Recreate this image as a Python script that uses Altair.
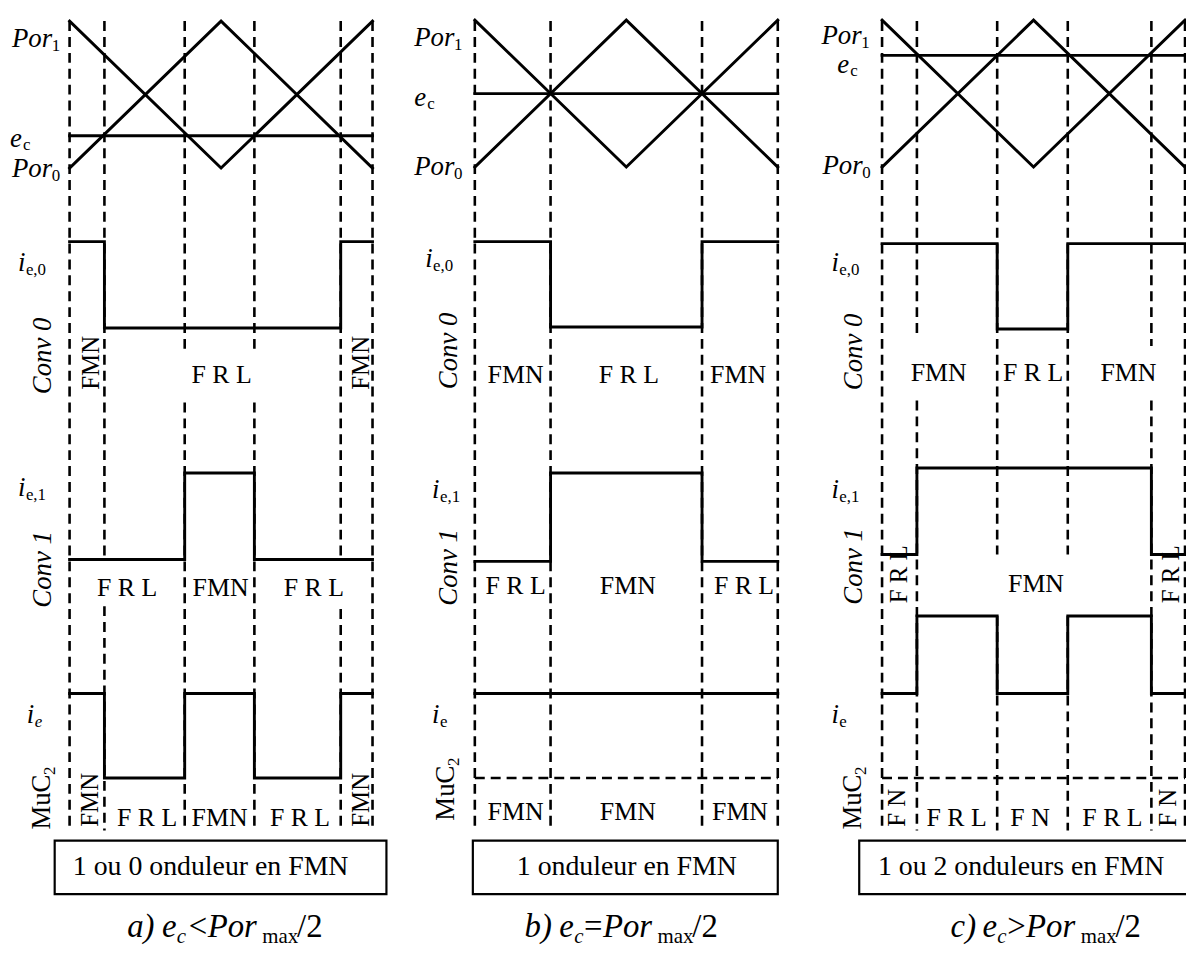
import altair as alt
import pandas as pd

# ------------------------------------------------------------------ data
PANELS = ["a", "b", "c"]
EC = [0.22, 0.50, 0.76]                 # e_c level (fraction of carrier amplitude)
CARRIER_T = [0.0, 0.5, 1.0]             # one carrier period
POR1_V = [1, 0, 1]
POR0_V = [0, 1, 0]

SWITCH_T = {"a": [0.0, 0.115, 0.38, 0.61, 0.895, 1.0],
            "b": [0.0, 0.25, 0.75, 1.0],
            "c": [0.0, 0.115, 0.38, 0.613, 0.889, 1.0]}
IE0_T = {"a": [0, 0.115, 0.895, 1], "b": [0, 0.25, 0.75, 1], "c": [0, 0.38, 0.613, 1]}
IE0_V = {"a": [1, 0, 1], "b": [1, 0, 1], "c": [1, 0, 1]}
IE1_T = {"a": [0, 0.38, 0.61, 1], "b": [0, 0.25, 0.75, 1], "c": [0, 0.115, 0.889, 1]}
IE1_V = {"a": [0, 1, 0], "b": [0, 1, 0], "c": [0, 1, 0]}
IE_T = {"a": [0, 0.115, 0.38, 0.61, 0.895, 1], "b": [0, 1], "c": [0, 0.115, 0.38, 0.613, 0.889, 1]}
IE_V = {"a": [1, 0, 1, 0, 1], "b": [1], "c": [1, 2, 1, 2, 1]}

CONV0_TXT = {"a": ["F R L"], "b": ["FMN", "F R L", "FMN"], "c": ["FMN", "F R L", "FMN"]}
CONV0_ROT = {"a": ["FMN", "FMN"], "b": [], "c": []}
CONV1_TXT = {"a": ["F R L", "FMN", "F R L"], "b": ["F R L", "FMN", "F R L"], "c": ["FMN"]}
CONV1_ROT = {"a": [], "b": [], "c": ["F R L", "F R L"]}
MUC_TXT = {"a": ["F R L", "FMN", "F R L"], "b": ["FMN", "FMN", "FMN"], "c": ["F R L", "F N", "F R L"]}
MUC_ROT = {"a": ["FMN", "FMN"], "b": [], "c": ["F N", "F N"]}
BOX_TXT = {"a": "1 ou 0 onduleur en FMN", "b": "1 onduleur en FMN", "c": "1 ou 2 onduleurs en FMN"}
CAP_LETTER = {"a": "a)", "b": "b)", "c": "c)"}
CAP_REL = {"a": "<", "b": "=", "c": ">"}

# ------------------------------------------------------------------ layout (pixels)
FONT = "'Liberation Serif', 'Times New Roman', Times, serif"
PX = 305.0                      # pixels per carrier period
ORIGIN = {"a": 62, "b": 470, "c": 880}   # svg-x of t = 0 in each panel
SVG_W, SVG_H = 1186, 939
CAR_Y = {"a": (166, 18), "b": (165, 17), "c": (165, 17)}      # (level 0, level 1)
IE0_Y = {"a": (327, 240), "b": (326, 240), "c": (328, 242)}
IE1_Y = {"a": (560, 473), "b": (562, 473), "c": (555, 468)}
IE_Y = {0: 780, 1: 695, 2: 617}
DASH_TOP, DASH_BOT = 18, 833
GAPS = {"a": {0.115: [(557, 607)], 0.38: [(348, 402)], 0.61: [(348, 402)], 0.895: [(557, 610)]},
        "b": {},
        "c": {0.115: [(338, 400)], 0.38: [(555, 617)], 0.613: [(555, 617)], 0.889: [(345, 400)]}}

def X(p, t):
    return ORIGIN[p] / PX + t

def XD(p, dx):
    return (ORIGIN[p] + dx) / PX

solid, dashed, hdash, boxes, labels = [], [], [], [], []

def lab(p, text, dx, y, size=27, style="normal", align="left", angle=0):
    labels.append(dict(x=XD(p, dx), y=y, text=text, size=size, style=style,
                       align=align, angle=angle))

def step(p, name, ts, vs, ymap):
    k = 0
    for i, v in enumerate(vs):
        for t in (ts[i], ts[i + 1]):
            solid.append(dict(id=f"{p}-{name}", o=k, x=X(p, t), y=ymap(v)))
            k += 1

for i, p in enumerate(PANELS):
    y0, y1 = CAR_Y[p]
    cy = lambda v, y0=y0, y1=y1: y0 + (y1 - y0) * v
    for k, t in enumerate(CARRIER_T):
        solid.append(dict(id=f"{p}-por1", o=k, x=X(p, t), y=cy(POR1_V[k])))
        solid.append(dict(id=f"{p}-por0", o=k, x=X(p, t), y=cy(POR0_V[k])))
    solid.append(dict(id=f"{p}-ec", o=0, x=X(p, 0), y=cy(EC[i])))
    solid.append(dict(id=f"{p}-ec", o=1, x=X(p, 1), y=cy(EC[i])))
    a0, a1 = IE0_Y[p]
    step(p, "ie0", IE0_T[p], IE0_V[p], lambda v, a0=a0, a1=a1: a0 + (a1 - a0) * v)
    b0, b1 = IE1_Y[p]
    step(p, "ie1", IE1_T[p], IE1_V[p], lambda v, b0=b0, b1=b1: b0 + (b1 - b0) * v)
    step(p, "ie", IE_T[p], IE_V[p], lambda v: IE_Y[v])
    # dashed verticals (with the gaps left around some labels)
    for t in SWITCH_T[p]:
        cuts = GAPS[p].get(t, [])
        start = DASH_TOP
        for g0, g1 in cuts:
            dashed.append(dict(x=X(p, t), y=start, y2=g0))
            start = g1
        dashed.append(dict(x=X(p, t), y=start, y2=DASH_BOT))
    if p in ("b", "c"):
        hdash.append(dict(x=X(p, 0), x2=X(p, 1), y=IE_Y[0]))

# ---- text
# panel a
lab("a", "Por", -58, 44, style="italic"); lab("a", "1", -18, 48, 17)
lab("a", "e", -60, 145, style="italic"); lab("a", "c", -47, 148, 17)
lab("a", "Por", -58, 175, style="italic"); lab("a", "0", -18, 179, 17)
lab("a", "i", -52, 270, style="italic"); lab("a", "e,0", -44, 274, 17)
lab("a", "i", -52, 496, style="italic"); lab("a", "e,1", -44, 500, 17)
lab("a", "i", -43, 725, style="italic"); lab("a", "e", -35, 729, 17, style="italic")
# panel b
lab("b", "Por", -61, 43, style="italic"); lab("b", "1", -21, 47, 17)
lab("b", "e", -61, 103, style="italic"); lab("b", "c", -48, 106, 17)
lab("b", "Por", -61, 173, style="italic"); lab("b", "0", -21, 177, 17)
lab("b", "i", -50, 266, style="italic"); lab("b", "e,0", -42, 270, 17)
lab("b", "i", -43, 498, style="italic"); lab("b", "e,1", -35, 502, 17)
lab("b", "i", -43, 725, style="italic"); lab("b", "e", -35, 729, 17)
# panel c
lab("c", "Por", -61, 41, style="italic"); lab("c", "1", -21, 45, 17)
lab("c", "e", -45, 70, style="italic"); lab("c", "c", -32, 73, 17)
lab("c", "Por", -60, 172, style="italic"); lab("c", "0", -20, 176, 17)
lab("c", "i", -51, 270, style="italic"); lab("c", "e,0", -43, 274, 17)
lab("c", "i", -51, 498, style="italic"); lab("c", "e,1", -43, 502, 17)
lab("c", "i", -51, 725, style="italic"); lab("c", "e", -43, 729, 17)

ROT_LEFT = {"a": (-19, 355, 570, -20, 832), "b": (-18, 350, 568, -21, 823), "c": (-20, 351, 567, -21, 832)}
for p in PANELS:
    dx, y0, y1, mdx, my = ROT_LEFT[p]
    lab(p, "Conv 0", dx, y0, style="italic", align="center", angle=270)
    lab(p, "Conv 1", dx, y1, style="italic", align="center", angle=270)
    lab(p, "MuC", mdx, my, angle=270)
    lab(p, "2", mdx + 5, my - 55, 17, angle=270)

POS_CONV0 = {"a": ([153], 382), "b": ([41, 155, 265], 382), "c": ([57, 152, 248], 380)}
POS_CONV1 = {"a": ([58, 152, 246], 597), "b": ([41, 154, 271], 595), "c": ([155], 593)}
POS_MUC = {"a": ([78, 151, 232], 828), "b": ([41, 154, 267], 822), "c": ([75, 149, 232], 828)}
POS_CONV0_ROT = {"a": [(30, 362), (301, 362)], "b": [], "c": []}
POS_CONV1_ROT = {"a": [], "b": [], "c": [(25, 575), (299, 575)]}
POS_MUC_ROT = {"a": [(29, 802), (301, 802)], "b": [], "c": [(23, 810), (296, 810)]}
for p in PANELS:
    for txts, (xs, yy) in ((CONV0_TXT[p], POS_CONV0[p]), (CONV1_TXT[p], POS_CONV1[p]),
                           (MUC_TXT[p], POS_MUC[p])):
        for t, dx in zip(txts, xs):
            lab(p, t, dx, yy, 26, align="center")
    for txts, pos in ((CONV0_ROT[p], POS_CONV0_ROT[p]), (CONV1_ROT[p], POS_CONV1_ROT[p]),
                      (MUC_ROT[p], POS_MUC_ROT[p])):
        for t, (dx, yy) in zip(txts, pos):
            lab(p, t, dx, yy, 25, align="center", angle=270)

BOX = {"a": (-15, 319, 142), "b": (-2, 305, 153), "c": (-23, 340, 140)}
for p in PANELS:
    bx0, bx1, tx = BOX[p]
    boxes.append(dict(x=XD(p, bx0), x2=XD(p, bx1), y=843, y2=897))
    lab(p, BOX_TXT[p], tx, 878, 28, align="center")

# caption pieces: letter, e, c, relation, Por, max, /2
CAP_X = {"a": (58, 93, 108, 120, 139, 194, 229),
         "b": (50, 85, 100, 110, 129, 184, 219),
         "c": (69, 101, 116, 126, 145, 200, 235)}
CAP_Y = 940
for p in PANELS:
    c0, c1, c2, c3, c4, c5, c6 = CAP_X[p]
    lab(p, CAP_LETTER[p], c0, CAP_Y, 33, style="italic")
    lab(p, "e", c1, CAP_Y, 33, style="italic")
    lab(p, "c", c2, CAP_Y + 6, 21, style="italic")
    lab(p, CAP_REL[p], c3, CAP_Y, 33)
    lab(p, "Por", c4, CAP_Y, 33, style="italic")
    lab(p, "max", c5, CAP_Y + 6, 21)
    lab(p, "/2", c6, CAP_Y, 33)

# ------------------------------------------------------------------ chart
xs = alt.Scale(domain=[0, SVG_W / PX], nice=False, zero=False)
ys = alt.Scale(domain=[8, 8 + SVG_H], reverse=True, nice=False, zero=False)

def xq(f="x"):
    return alt.X(f"{f}:Q", scale=xs, axis=None)

def yq(f="y"):
    return alt.Y(f"{f}:Q", scale=ys, axis=None)

layers = []
layers.append(alt.Chart(pd.DataFrame(dashed)).mark_rule(
    color="black", strokeWidth=2.6, strokeDash=[10, 6]).encode(
    x=xq(), y=yq(), y2="y2:Q"))
layers.append(alt.Chart(pd.DataFrame(hdash)).mark_rule(
    color="black", strokeWidth=2.6, strokeDash=[10, 6]).encode(
    x=xq(), x2="x2:Q", y=yq()))
layers.append(alt.Chart(pd.DataFrame(solid)).mark_line(
    color="black", strokeWidth=2.9, strokeCap="square").encode(
    x=xq(), y=yq(), detail="id:N", order="o:Q"))
layers.append(alt.Chart(pd.DataFrame(boxes)).mark_rect(
    fill="white", fillOpacity=0, stroke="black", strokeWidth=2.2, clip=True).encode(
    x=xq(), x2="x2:Q", y=yq(), y2="y2:Q"))

lab_df = pd.DataFrame(labels)
for (st, al, an), g in lab_df.groupby(["style", "align", "angle"]):
    layers.append(alt.Chart(g.reset_index(drop=True)).mark_text(
        font=FONT, fontStyle=st, align=al, baseline="alphabetic", angle=int(an),
        color="black").encode(
        x=xq(), y=yq(), text="text:N", size=alt.Size("size:Q", scale=None)))

chart = alt.layer(*layers).properties(
    width=SVG_W, height=SVG_H, padding=0,
    autosize=alt.AutoSizeParams(type="none"),
    background="white",
).configure_view(stroke=None)

chart.save("out.html", embed_options={"renderer": "svg", "actions": False})
